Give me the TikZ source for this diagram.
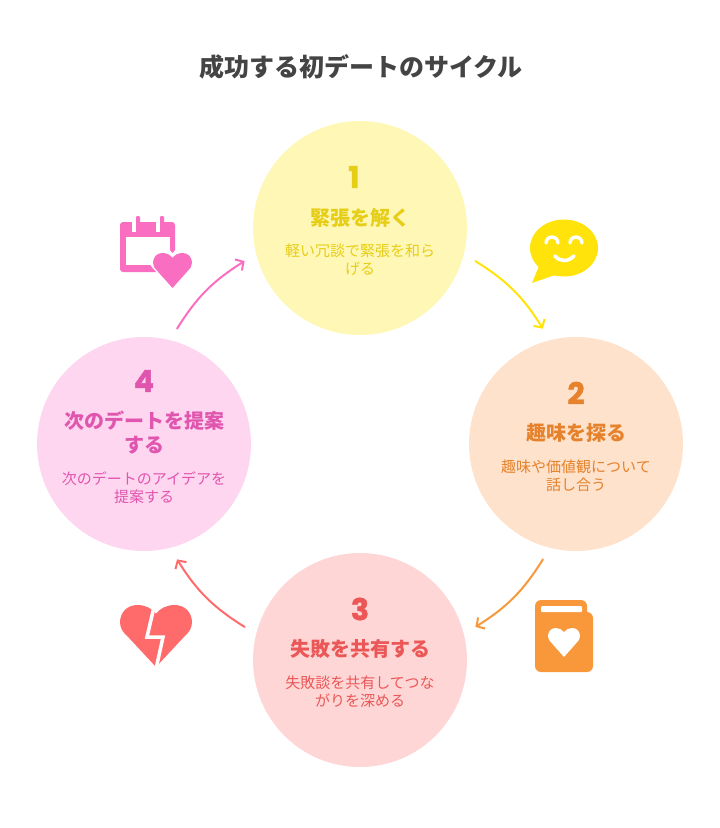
\documentclass[tikz,border=0pt]{standalone}
\usepackage{fontspec}
\setmainfont{Noto Sans CJK JP}
\newfontfamily\numfont{Poppins}[BoldFeatures={FakeBold=1.5}]
\usetikzlibrary{arrows.meta}
\definecolor{yelfill}{HTML}{FFF7B5}
\definecolor{yeltext}{HTML}{E6CE17}
\definecolor{yelline}{HTML}{FFE30A}
\definecolor{orafill}{HTML}{FFE2CC}
\definecolor{oratext}{HTML}{E5822B}
\definecolor{oraline}{HTML}{F9983A}
\definecolor{redfill}{HTML}{FFD6D6}
\definecolor{redtext}{HTML}{EB5757}
\definecolor{redline}{HTML}{FF6B6B}
\definecolor{pinfill}{HTML}{FFD6F0}
\definecolor{pintext}{HTML}{E055AE}
\definecolor{pinline}{HTML}{F96EC1}
\definecolor{titlecol}{HTML}{444444}
\tikzset{
  stepcircle/.style={circle,fill=#1,minimum size=214pt,outer sep=13pt,inner sep=0pt},
  stepnum/.style={text=#1,font=\numfont\fontsize{30}{30}\selectfont\bfseries},
  stephead/.style={text=#1,align=center,font=\fontsize{20}{24}\selectfont\bfseries},
  stepbody/.style={text=#1,align=center,font=\fontsize{15}{18}\selectfont},
  flow/.style={draw=#1,line width=2pt,line cap=round,line join=round,
    -{Straight Barb[length=6pt,width=13pt,line width=2pt]}},
}
\newcommand\heartat[5]{
  \fill[#1,shift={(#2,#3)},x=#4pt,y=-#5pt] (0,-0.36) .. controls (-0.06,-0.45) and (-0.15,-0.5) .. (-0.26,-0.5)
      .. controls (-0.4,-0.5) and (-0.5,-0.38) .. (-0.5,-0.22)
      .. controls (-0.5,-0.12) and (-0.45,-0.05) .. (-0.4,0)
      -- (0,0.5) -- (0.4,0)
      .. controls (0.45,-0.05) and (0.5,-0.12) .. (0.5,-0.22)
      .. controls (0.5,-0.38) and (0.4,-0.5) .. (0.26,-0.5)
      .. controls (0.15,-0.5) and (0.06,-0.45) .. (0,-0.36) -- cycle;
}
\begin{document}
\begin{tikzpicture}[x=1pt,y=-1pt]
  \useasboundingbox (0,0) rectangle (720,828);
  \node (title) at (361,67) [text=titlecol,font=\fontsize{25}{30}\selectfont\bfseries] {成功する初デートのサイクル};

  \node (step1) at (360,228) [stepcircle=yelfill] {};
  \node (step2) at (576,444) [stepcircle=orafill] {};
  \node (step3) at (360,660) [stepcircle=redfill] {};
  \node (step4) at (144,444) [stepcircle=pinfill] {};

  \node (num1) at (354,177) [stepnum=yeltext] {1};
  \node (head1) at (360,218) [stephead=yeltext] {緊張を解く};
  \node (body1) at (360,259.5) [stepbody=yeltext] {軽い冗談で緊張を和ら\\げる};

  \node (num2) at (576,393) [stepnum=oratext] {2};
  \node (head2) at (576,433) [stephead=oratext] {趣味を探る};
  \node (body2) at (576,475.5) [stepbody=oratext] {趣味や価値観について\\話し合う};

  \node (num3) at (360,609) [stepnum=redtext] {3};
  \node (head3) at (360,649) [stephead=redtext] {失敗を共有する};
  \node (body3) at (360,691.5) [stepbody=redtext] {失敗談を共有してつな\\がりを深める};

  \node (num4) at (144,381) [stepnum=pintext] {4};
  \node (head4) at (144,433) [stephead=pintext] {次のデートを提案\\する};
  \node (body4) at (144,487.5) [stepbody=pintext] {次のデートのアイデアを\\提案する};

  \draw[flow=yelline] (step1.-16) to[bend left=13] (step2.106);
  \draw[flow=oraline] (step2.-106) to[bend left=13] (step3.16);
  \draw[flow=redline] (step3.164) to[bend left=13] (step4.-74);
  \draw[flow=pinline] (step4.74) to[bend left=13] (step1.-164);

  % calendar
  \fill[pinline,rounded corners=3pt] (120,222) rectangle (175,272);
  \fill[white] (126,237) rectangle (170,265);
  \fill[white] (131.5,216) rectangle (136,232);
  \fill[white] (155.5,216) rectangle (160,232);
  \fill[pinline,rounded corners=1pt] (136,216) rectangle (140,233);
  \fill[pinline,rounded corners=1pt] (160,216) rectangle (164,233);
  \heartat{white}{172.5}{269}{47}{44}
  \heartat{pinline}{172.5}{270.5}{39}{35}

  % speech bubble
  \fill[yelline] (564,248) ellipse [x radius=34pt,y radius=28.5pt];
  \fill[yelline,line join=round] (539,266) -- (532,283) -- (555,275) -- cycle;
  \draw[white,line width=3.4pt,line cap=round] (546,243) arc[start angle=180,end angle=0,radius=6pt];
  \draw[white,line width=3.4pt,line cap=round] (570,243) arc[start angle=180,end angle=0,radius=6pt];
  \draw[white,line width=3.6pt,line cap=round] (555,256) .. controls (560,262) and (568,262) .. (574,256);

  % book
  \fill[oraline,rounded corners=6pt] (535,600) rectangle (587,630);
  \fill[oraline,rounded corners=6pt] (535,612) rectangle (593,672);
  \fill[white,rounded corners=1pt] (541,606) rectangle (582,612);
  \heartat{white}{564}{642.5}{32}{29}

  % broken heart
  \heartat{redline}{156}{636}{72}{62}
  \draw[white,line width=3.5pt,line join=miter] (154,607) -- (147,637) -- (163,637) -- (156,669);
\end{tikzpicture}
\end{document}
